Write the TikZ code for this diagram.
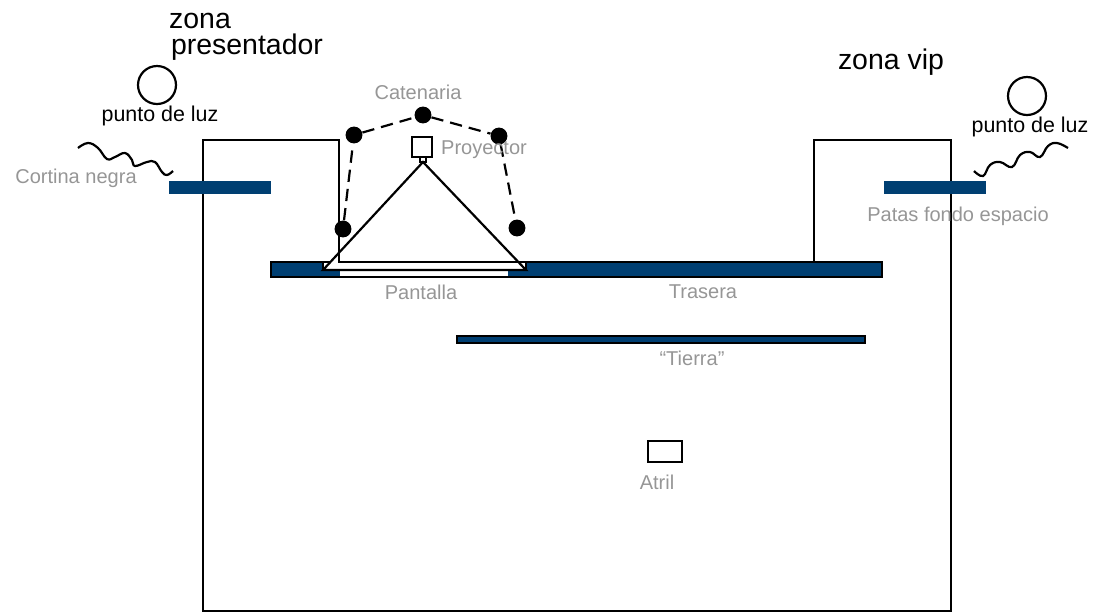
\documentclass[tikz,border=0pt]{standalone}
\usepackage{fontspec}
\setmainfont{Liberation Sans}
\definecolor{barblue}{RGB}{0,63,114}
\definecolor{labelgrey}{RGB}{150,150,150}
\tikzset{
	wall/.style={black,line width=1.25pt},
	bar/.style={fill=barblue,draw=none},
	catdot/.style={circle,fill=black,inner sep=0pt,minimum size=9.6pt},
	catline/.style={black,line width=1.25pt,dash pattern=on 7pt off 4pt},
	greylabel/.style={text=labelgrey,font=\fontsize{11.4}{14}\selectfont,inner sep=0pt},
	lightlabel/.style={text=black,font=\fontsize{12.2}{14}\selectfont,inner sep=0pt},
	zonelabel/.style={text=black,font=\fontsize{16.2}{19}\selectfont,inner sep=0pt},
	wave/.style={black,line width=1.25pt,smooth,tension=0.7}
}
\begin{document}
\begin{tikzpicture}[x=0.02cm,y=0.02cm]
	\useasboundingbox (0,0) rectangle (1106,-613);
	% back wall and stage
	\draw [bar,draw=black,line width=1.25pt] (271,-262) rectangle (882,-277);
	\fill [white] (340,-270) rectangle (508,-276);
	\draw [wall,fill=white] (323,-262) rectangle (526,-270);
	\draw [wall,fill=white] (423,-162) -- (323,-270) -- (526,-270) -- cycle;
	\draw [wall] (203,-611) -- (203,-140) -- (339,-140) -- (339,-262) -- (814,-262) -- (814,-140) -- (951,-140) -- (951,-611) -- cycle;
	% side curtains
	\fill [bar] (169,-181) rectangle (271,-194);
	\fill [bar] (884,-181) rectangle (986,-194);
	% tierra
	\draw [bar,draw=black,line width=0.8pt] (457,-336) rectangle (865,-343);
	% proyector and atril
	\draw [wall] (412,-137) rectangle (432,-157);
	\draw [wall] (420,-157) rectangle (426,-162);
	\draw [wall] (648,-441) rectangle (682,-462);
	% luces
	\draw [wall] (157,-85) circle (19);
	\draw [wall] (1027,-96) circle (19);
	% catenaria
	\node [catdot] (cat1) at (343,-229) {};
	\node [catdot] (cat2) at (354,-135) {};
	\node [catdot] (cat3) at (423,-115) {};
	\node [catdot] (cat4) at (499,-136) {};
	\node [catdot] (cat5) at (517,-228) {};
	\draw [catline] (cat1) -- (cat2);
	\draw [catline] (cat2) -- (cat3);
	\draw [catline] (cat3) -- (cat4);
	\draw [catline] (cat4) -- (cat5);
	% ondas
	\draw [wave] plot coordinates {(78,-148) (88,-143) (98,-148) (107,-159) (115,-157) (125,-153) (132,-160) (135,-166) (147,-162) (155,-162) (162,-172) (167,-175) (173,-171)};
	\draw [wave] plot coordinates {(974,-171) (983,-176) (990,-165) (1000,-162) (1012,-167) (1020,-155) (1030,-152) (1040,-157) (1048,-146) (1057,-143) (1068,-148)};
	% textos
	\node [zonelabel] (zona1a) at (200,-21) {zona};
	\node [zonelabel] (zona1b) at (247,-47) {presentador};
	\node [zonelabel] (zona2) at (891,-62) {zona vip};
	\node [lightlabel] (luz1) at (160,-116) {punto de luz};
	\node [lightlabel] (luz2) at (1030,-127) {punto de luz};
	\node [greylabel] (cortina) at (76,-178) {Cortina negra};
	\node [greylabel] (patas) at (958,-216) {Patas fondo espacio};
	\node [greylabel] (catenaria) at (418,-92) {Catenaria};
	\node [greylabel] (proyector) at (484,-150) {Proyector};
	\node [greylabel] (pantalla) at (421,-292) {Pantalla};
	\node [greylabel] (trasera) at (703,-292) {Trasera};
	\node [greylabel] (tierra) at (692,-358) {“Tierra”};
	\node [greylabel] (atril) at (657,-482) {Atril};
\end{tikzpicture}
\end{document}
